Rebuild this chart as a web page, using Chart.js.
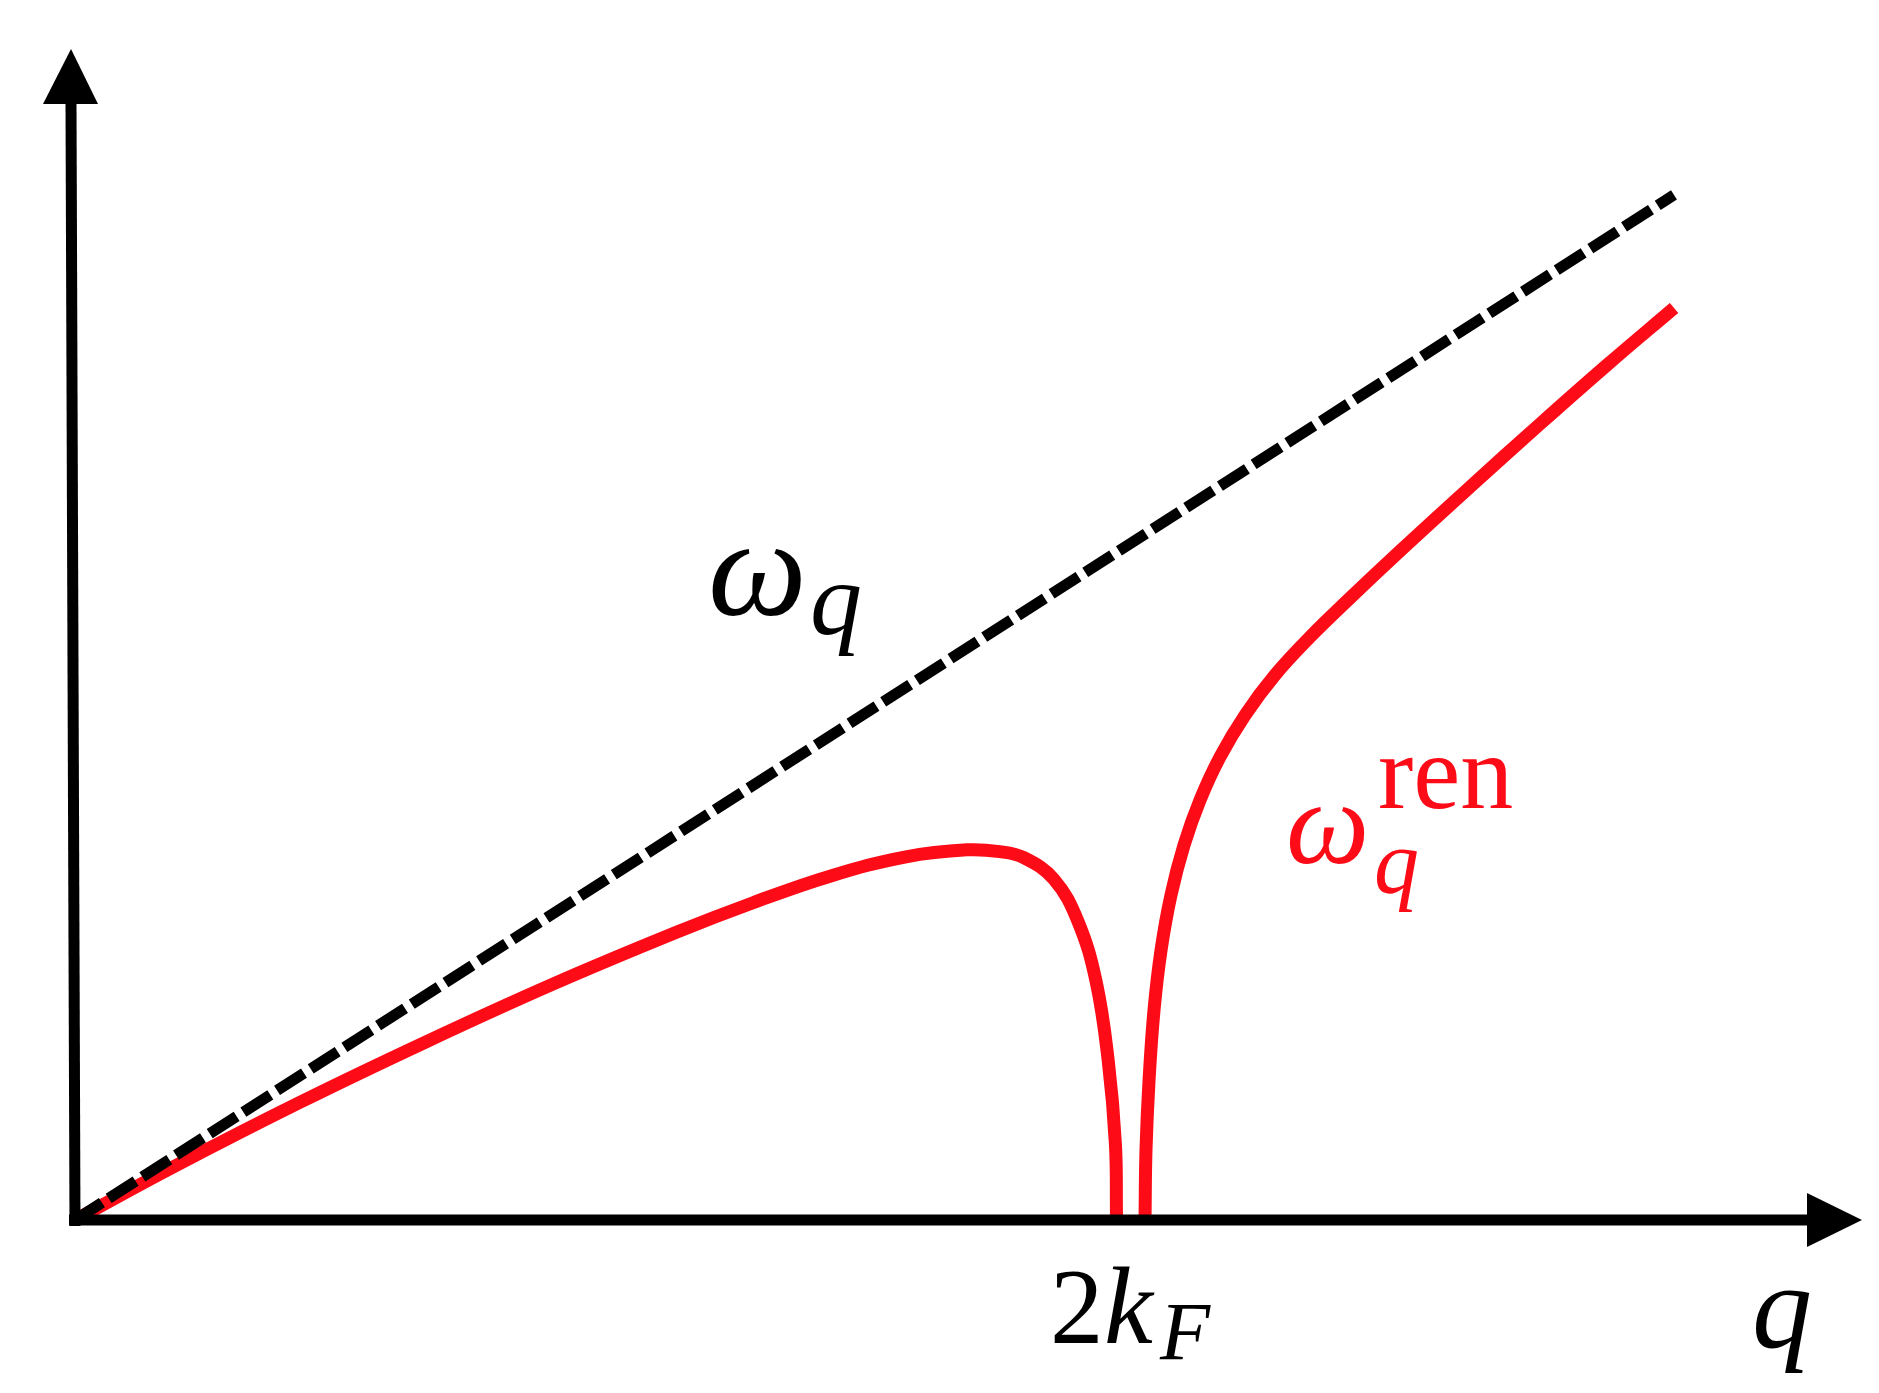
<!DOCTYPE html>
<html>
<head>
<meta charset="utf-8">
<script src="https://cdn.jsdelivr.net/npm/chart.js@4"></script>
<style>
  html, body { margin: 0; padding: 0; background: #ffffff; }
  canvas { display: block; }
</style>
</head>
<body>
<canvas id="c" width="1879" height="1393"></canvas>
<script>
// q in units of 2k_F, omega in the same (arbitrary) units
const freeQ = [0, 1.517];
const freeW = [0, 0.9725];

const renLeftQ = [0, 0.0949, 0.2135, 0.3321, 0.4507, 0.5712, 0.6433, 0.7163, 0.7884, 0.8463, 0.8773, 0.9002, 0.9288, 0.9516, 0.9688, 0.9802, 0.9871, 0.9881];
const renLeftW = [0, 0.0512, 0.1117, 0.1686, 0.2226, 0.2732, 0.3010, 0.3262, 0.3446, 0.3512, 0.3495, 0.3438, 0.3232, 0.2833, 0.2261, 0.1518, 0.0718, 0.0038];

const renRightQ = [1.0152, 1.0161, 1.0190, 1.0237, 1.0304, 1.0398, 1.0522, 1.0674, 1.0863, 1.1101, 1.1385, 1.1717, 1.2097, 1.2571, 1.3235, 1.3899, 1.4535, 1.5171];
const renRightW = [0.0028, 0.0664, 0.1328, 0.1992, 0.2562, 0.3083, 0.3558, 0.3985, 0.4393, 0.4791, 0.5171, 0.5531, 0.5901, 0.6347, 0.6954, 0.7552, 0.8112, 0.8653];

const xMax = 1.6954;
const yMax = 1.111;

const RED = '#fd0b17';

function pts(qs, ws) { return qs.map((q, i) => ({ x: q, y: ws[i] })); }

const axesPlugin = {
  id: 'axesArrows',
  afterDatasetsDraw(chart) {
    const ctx = chart.ctx;
    const xs = chart.scales.x, ys = chart.scales.y;
    const x0 = xs.getPixelForValue(0);
    const y0 = ys.getPixelForValue(0);
    const xTip = xs.getPixelForValue(xMax);
    const yTip = ys.getPixelForValue(yMax);
    ctx.save();
    ctx.fillStyle = '#000';
    ctx.strokeStyle = '#000';
    ctx.lineWidth = 11;
    ctx.lineCap = 'butt';
    // y axis (slightly tilted as in the figure)
    ctx.beginPath();
    ctx.moveTo(x0, y0 + 6);
    ctx.lineTo(x0 - 4, yTip + 54);
    ctx.stroke();
    ctx.beginPath();
    ctx.moveTo(x0 - 4, yTip);
    ctx.lineTo(x0 - 4 - 28, yTip + 55);
    ctx.lineTo(x0 - 4 + 27, yTip + 55);
    ctx.closePath();
    ctx.fill();
    // x axis
    ctx.beginPath();
    ctx.moveTo(x0 - 6, y0);
    ctx.lineTo(xTip - 52, y0);
    ctx.stroke();
    ctx.beginPath();
    ctx.moveTo(xTip, y0);
    ctx.lineTo(xTip - 55, y0 - 27);
    ctx.lineTo(xTip - 55, y0 + 27);
    ctx.closePath();
    ctx.fill();

    ctx.textBaseline = 'alphabetic';
    ctx.textAlign = 'left';
    const it = (s) => 'italic ' + s + 'px "Liberation Serif", "DejaVu Serif", serif';
    const up = (s) => s + 'px "Liberation Serif", "DejaVu Serif", serif';

    // omega_q label (black)
    ctx.fillStyle = '#000';
    ctx.font = it(140);
    ctx.fillText('ω', 708, 615);
    ctx.font = it(104);
    ctx.fillText('q', 810, 634);

    // omega_q^ren label (red)
    ctx.fillStyle = RED;
    ctx.font = it(118);
    ctx.fillText('ω', 1286, 863);
    ctx.font = it(90);
    ctx.fillText('q', 1374, 893);
    ctx.font = up(106);
    ctx.fillText('ren', 1378, 808);

    // 2k_F tick label
    ctx.fillStyle = '#000';
    ctx.font = up(107);
    ctx.fillText('2', 1050, 1343);
    ctx.font = it(110);
    ctx.fillText('k', 1104, 1343);
    ctx.font = it(82);
    ctx.fillText('F', 1160, 1359);

    // axis label q
    ctx.font = it(120);
    ctx.fillText('q', 1752, 1347);
    ctx.restore();
  }
};

new Chart(document.getElementById('c'), {
  type: 'scatter',
  data: {
    datasets: [
      {
        label: 'omega_q',
        data: pts(freeQ, freeW),
        showLine: true,
        borderColor: '#000',
        borderWidth: 11,
        borderDash: [32, 8],
        borderCapStyle: 'butt',
        pointRadius: 0,
        order: 0,
        clip: false
      },
      {
        label: 'ren left',
        data: pts(renLeftQ, renLeftW),
        showLine: true,
        borderColor: RED,
        borderWidth: 13,
        tension: 0.4,
        borderCapStyle: 'butt',
        borderJoinStyle: 'round',
        pointRadius: 0,
        order: 1,
        clip: false
      },
      {
        label: 'ren right',
        data: pts(renRightQ, renRightW),
        showLine: true,
        borderColor: RED,
        borderWidth: 13,
        tension: 0.4,
        borderCapStyle: 'butt',
        borderJoinStyle: 'round',
        pointRadius: 0,
        order: 1,
        clip: false
      }
    ]
  },
  options: {
    responsive: false,
    devicePixelRatio: 1,
    animation: false,
    events: [],
    layout: { padding: { left: 75, right: 17, top: 49, bottom: 173 } },
    plugins: { legend: { display: false }, tooltip: { enabled: false }, title: { display: false } },
    scales: {
      x: { type: 'linear', min: 0, max: xMax, display: false },
      y: { type: 'linear', min: 0, max: yMax, display: false }
    }
  },
  plugins: [axesPlugin]
});
</script>
</body>
</html>
